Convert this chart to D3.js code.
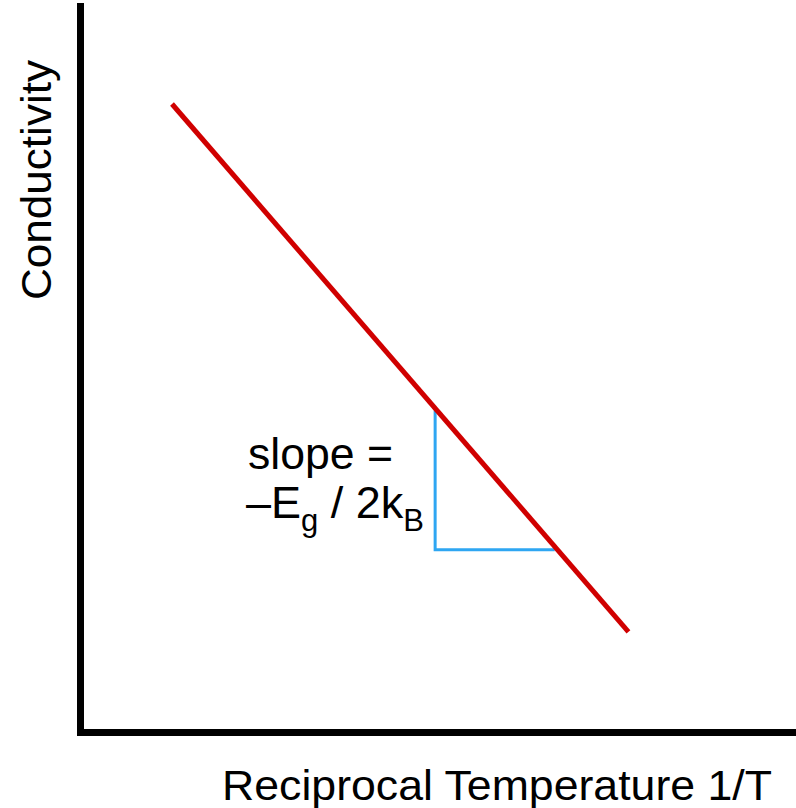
<!DOCTYPE html>
<html>
<head>
<meta charset="utf-8">
<script src="https://cdn.jsdelivr.net/npm/d3@7/dist/d3.min.js"></script>
<style>
html,body{margin:0;padding:0;background:#fff;}
svg{display:block;}
text{font-family:"Liberation Sans",Arial,Helvetica,sans-serif;fill:#000;}
</style>
</head>
<body>
<script>
// Data (arbitrary units, conceptual chart)
const lineX = [12.85, 76.6];
const lineY = [86.5, 13.8];
const triX = [49.6, 49.6, 66.3];
const triY = [44.3, 25.1, 25.1];
const xLabel = "Reciprocal Temperature 1/T";
const yLabel = "Conductivity";

const W = 796, H = 808;
const svg = d3.select("body").append("svg").attr("width", W).attr("height", H);

const x = d3.scaleLinear().domain([0, 100]).range([80, 796]);
const y = d3.scaleLinear().domain([0, 100]).range([732, 6]);

// axes (no ticks)
const gx = svg.append("g").attr("transform", `translate(0,${y(0)})`)
  .call(d3.axisBottom(x).ticks(0).tickSize(0).tickSizeOuter(0));
const gy = svg.append("g").attr("transform", `translate(${x(0)},0)`)
  .call(d3.axisLeft(y).ticks(0).tickSize(0).tickSizeOuter(0));
[gx, gy].forEach(g => {
  g.select(".domain").attr("stroke", "#000").attr("stroke-width", 7).attr("stroke-linecap", "square");
  g.selectAll(".tick").remove();
});

const lineGen = d3.line().x(d => x(d[0])).y(d => y(d[1]));

// blue slope triangle
const triData = triX.map((v, i) => [v, triY[i]]);
svg.append("path").datum(triData)
  .attr("d", lineGen)
  .attr("fill", "none").attr("stroke", "#2ea6f2").attr("stroke-width", 3);

// red line
const lineData = lineX.map((v, i) => [v, lineY[i]]);
svg.append("path").datum(lineData)
  .attr("d", lineGen)
  .attr("fill", "none").attr("stroke", "#d00000").attr("stroke-width", 5);

// slope text
svg.append("text").attr("x", 248).attr("y", 469).attr("font-size", 44)
  .attr("textLength", 145).attr("lengthAdjust", "spacingAndGlyphs").text("slope =");
const t2 = svg.append("text").attr("x", 246).attr("y", 518).attr("font-size", 45);
t2.append("tspan").text("\u2013E");
t2.append("tspan").attr("font-size", 31).attr("dy", 13).text("g");
t2.append("tspan").attr("dy", -13).text(" / 2k");
t2.append("tspan").attr("font-size", 31).attr("dy", 13).text("B");

// axis labels
svg.append("text").attr("x", 222).attr("y", 800).attr("font-size", 43)
  .attr("textLength", 550).attr("lengthAdjust", "spacingAndGlyphs").text(xLabel);
svg.append("text").attr("transform", "translate(51,300) rotate(-90)").attr("font-size", 43)
  .attr("textLength", 240).attr("lengthAdjust", "spacingAndGlyphs").text(yLabel);
</script>
</body>
</html>
